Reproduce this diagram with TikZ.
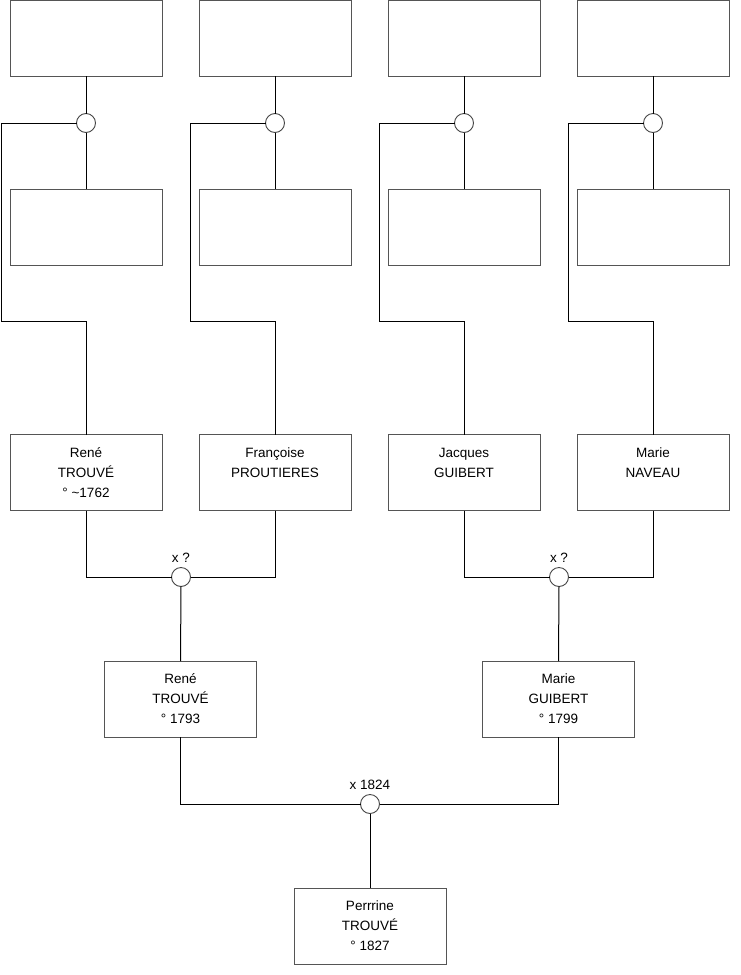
\documentclass[tikz,border=0pt]{standalone}
\usepackage{fontspec}
\setmainfont{Liberation Sans}
\begin{document}
\begin{tikzpicture}[x=1pt,y=-1pt,
  person/.style={draw={rgb,255:red,85;green,85;blue,85},line width=1pt,fill=white,minimum width=152pt,minimum height=76pt,inner sep=0pt,outer sep=0pt,align=center,font=\fontsize{13.5}{20}\selectfont},
  union/.style={draw={rgb,255:red,70;green,70;blue,70},line width=0.9pt,fill=white,circle,minimum size=19pt,inner sep=0pt,outer sep=0pt},
  link/.style={draw=black,line width=1pt},
  lbl/.style={font=\fontsize{13.5}{14}\selectfont,inner sep=0pt}]
\useasboundingbox (0,0) rectangle (740,975);
% top row
\node[person] (a1) at (86,38) {};
\node[person] (a2) at (275,38) {};
\node[person] (a3) at (464,38) {};
\node[person] (a4) at (653,38) {};
% unions row 1
\node[union] (u1) at (86,123) {};
\node[union] (u2) at (275,123) {};
\node[union] (u3) at (464,123) {};
\node[union] (u4) at (653,123) {};
% second row
\node[person] (b1) at (86,227) {};
\node[person] (b2) at (275,227) {};
\node[person] (b3) at (464,227) {};
\node[person] (b4) at (653,227) {};
% third row
\node[person] (p1) at (86,472.5) {René\\TROUVÉ\\° \textasciitilde1762};
\node[person] (p2) at (275,472.5) {Françoise\\PROUTIERES\\\mbox{}};
\node[person] (p3) at (464,472.5) {Jacques\\GUIBERT\\\mbox{}};
\node[person] (p4) at (653,472.5) {Marie\\NAVEAU\\\mbox{}};
% side coordinates
\coordinate (k1) at (1.5,321);
\coordinate (k2) at (190.5,321);
\coordinate (k3) at (379.5,321);
\coordinate (k4) at (568.5,321);
% marriages row 3
\node[union] (m1) at (181,577) {};
\node[union] (m2) at (559,577) {};
\node[lbl] (t1) at (181,558) {x ?};
\node[lbl] (t2) at (559,558) {x ?};
% row 4
\node[person] (g1) at (180.5,699) {René\\TROUVÉ\\° 1793};
\node[person] (g2) at (558.5,699) {Marie\\GUIBERT\\° 1799};
% final marriage
\node[union] (m3) at (370,804) {};
\node[lbl] (t3) at (370,785) {x 1824};
\node[person] (c1) at (370,926) {Perrrine\\TROUVÉ\\° 1827};
% connectors
\foreach \i in {1,2,3,4}{
  \draw[link] (a\i.south) -- (u\i.north);
  \draw[link] (u\i.south) -- (b\i.north);
  \draw[link] (u\i.west) -| (k\i) -| (p\i.north);
}
\draw[link] (p1.south) |- (m1.west);
\draw[link] (p2.south) |- (m1.east);
\draw[link] (p3.south) |- (m2.west);
\draw[link] (p4.south) |- (m2.east);
\draw[link] (m1.south) -- (g1.north);
\draw[link] (m2.south) -- (g2.north);
\draw[link] (g1.south) |- (m3.west);
\draw[link] (g2.south) |- (m3.east);
\draw[link] (m3.south) -- (c1.north);
\end{tikzpicture}
\end{document}
